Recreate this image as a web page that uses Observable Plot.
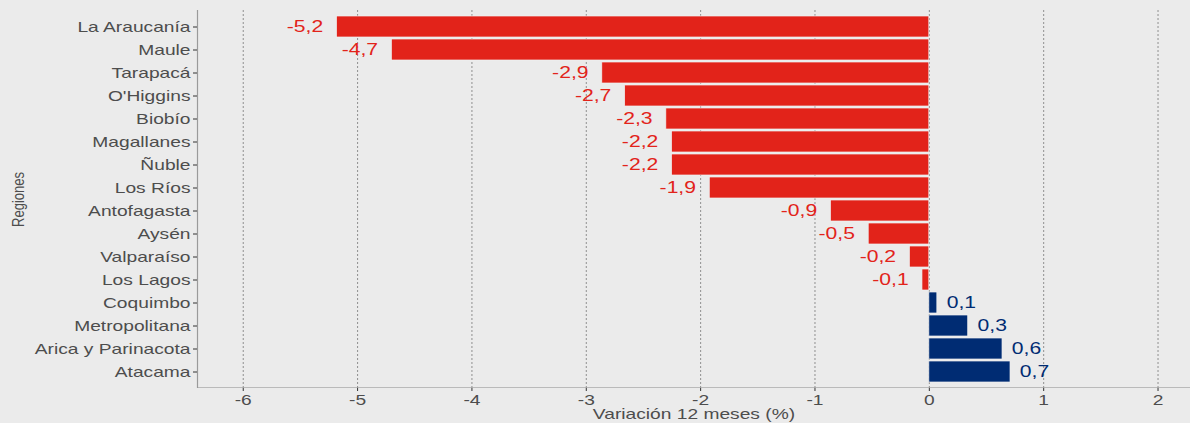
<!DOCTYPE html>
<html>
<head>
<meta charset="utf-8">
<script src="https://cdn.jsdelivr.net/npm/d3@7"></script>
<script src="https://cdn.jsdelivr.net/npm/@observablehq/plot@0.6"></script>
<style>
  html, body { margin: 0; padding: 0; background: #EBEBEB; }
  #chart svg { display: block; }
</style>
</head>
<body>
<div id="chart"></div>
<script>
// ---- data ----
const regions = ["La Araucanía", "Maule", "Tarapacá", "O'Higgins", "Biobío", "Magallanes", "Ñuble", "Los Ríos",
  "Antofagasta", "Aysén", "Valparaíso", "Los Lagos", "Coquimbo", "Metropolitana", "Arica y Parinacota", "Atacama"];
const values = [-5.18, -4.70, -2.86, -2.66, -2.30, -2.25, -2.25, -1.92, -0.86, -0.53, -0.17, -0.06, 0.07, 0.34, 0.64, 0.71];
const valueLabels = ["-5,2", "-4,7", "-2,9", "-2,7", "-2,3", "-2,2", "-2,2", "-1,9", "-0,9", "-0,5", "-0,2", "-0,1", "0,1", "0,3", "0,6", "0,7"];
const xTicks = [-6, -5, -4, -3, -2, -1, 0, 1, 2];
const xTickLabels = ["-6", "-5", "-4", "-3", "-2", "-1", "0", "1", "2"];
const xTitle = "Variación 12 meses (%)";
const yTitle = "Regiones";

const RED = "#E2231A";
const BLUE = "#002C73";
const rows = regions.map((r, i) => ({region: r, value: values[i], label: valueLabels[i]}));
const neg = rows.filter(d => d.value < 0);
const pos = rows.filter(d => d.value >= 0);
const xDomain = [-6.4, 2.284];

const chart = Plot.plot({
  width: 1190,
  height: 423,
  marginLeft: 197,
  marginRight: 0,
  marginTop: 10,
  marginBottom: 35,
  style: {background: "#EBEBEB", fontFamily: "'Liberation Sans', Arial, sans-serif", fontSize: "15px", color: "#4D4D4D"},
  x: {domain: xDomain, label: null},
  y: {domain: regions, paddingInner: 0.1, paddingOuter: 0.15, label: null},
  marks: [
    Plot.ruleX(xTicks, {stroke: "#8f8f8f", strokeWidth: 1, strokeDasharray: "2,2"}),
    Plot.barX(rows, {x: "value", y: "region", fill: d => d.value < 0 ? RED : BLUE, stroke: "#f0f0f0", strokeWidth: 0.7}),
    Plot.text(neg, {x: "value", y: "region", text: "label", dx: -32, fill: RED, fontSize: 16.5, textAnchor: "middle"}),
    Plot.text(pos, {x: "value", y: "region", text: "label", dx: 24, fill: BLUE, fontSize: 16.5, textAnchor: "middle"}),
    Plot.ruleX([xDomain[0]], {stroke: "#9a9a9a", strokeWidth: 1.2}),
    Plot.rect([0], {x1: xDomain[0], x2: xDomain[1], insetTop: 377.4, fill: "#9a9a9a"}),
    Plot.axisX({ticks: xTicks, tickFormat: d => xTickLabels[xTicks.indexOf(d)], tickSize: 3, tickPadding: 2.5, stroke: "#333", label: null, fill: "#4D4D4D"}),
    Plot.axisY({tickSize: 4, tickPadding: 3, stroke: "#333", label: null, fill: "#4D4D4D"}),
    Plot.text([xTitle], {frameAnchor: "bottom", lineAnchor: "middle", dy: 26, text: d => d, fill: "#4D4D4D", fontSize: 15}),
    Plot.text([yTitle], {frameAnchor: "left", dx: -179, rotate: -90, textAnchor: "middle", text: d => d, fill: "#4D4D4D", fontSize: 13})
  ]
});

// Horizontally stretched lettering, as in the reference image
const S = 1.28;
chart.querySelectorAll("text").forEach(t => {
  const tr = t.getAttribute("transform") || "";
  const sc = tr.includes("rotate") ? `scale(1,${S})` : `scale(${S},1)`;
  t.setAttribute("transform", `${tr} ${sc}`.trim());
});

document.getElementById("chart").appendChild(chart);
</script>
</body>
</html>
